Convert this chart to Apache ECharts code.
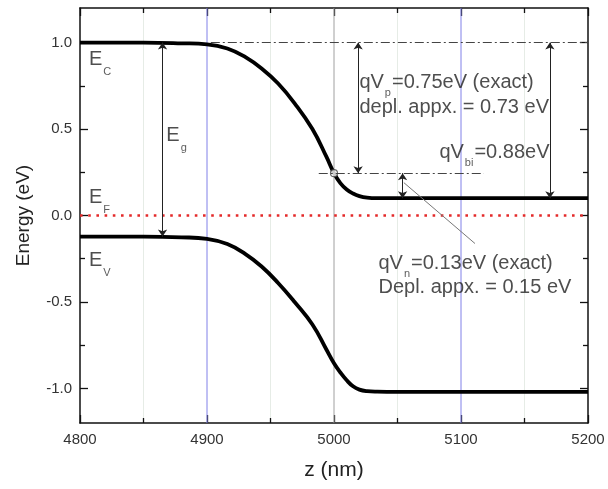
<!DOCTYPE html>
<html>
<head>
<meta charset="utf-8">
<script src="https://cdn.jsdelivr.net/npm/echarts@6.0.0/dist/echarts.min.js"></script>
<style>
  html, body { margin: 0; padding: 0; background: #fff; }
  #chart { width: 608px; height: 489px; }
</style>
</head>
<body>
<div id="chart"></div>
<script>
// position z (nm) and band edges (eV)
const zNm  = [4800, 4850, 4880, 4900, 4916, 4930, 4943, 4956, 4969, 4983, 4994, 5000, 5005, 5010, 5015, 5020, 5026, 5034, 5050, 5100, 5150, 5200];
const ecEV = [1.0, 1.0, 0.996, 0.99, 0.966, 0.917, 0.85, 0.763, 0.649, 0.50, 0.34, 0.245, 0.187, 0.15, 0.127, 0.112, 0.103, 0.1, 0.1, 0.1, 0.1, 0.1];
const evEV = [-0.122, -0.122, -0.126, -0.135, -0.165, -0.222, -0.295, -0.39, -0.5, -0.63, -0.775, -0.855, -0.908, -0.953, -0.988, -1.007, -1.016, -1.019, -1.02, -1.02, -1.02, -1.02];

// axis ticks
const yMajor = [-1.0, -0.5, 0.0, 0.5, 1.0];
const yMinor = [-0.75, -0.25, 0.25, 0.75];
const blueLines = [4900, 5100];
const grayLines = [5000];

// annotation geometry (data units)
const fermi = 0.0;
const eTop = 1.0;           // Ec on p side
const eMid = 0.245;         // Ec at the junction
const eRight = 0.1;         // Ec on n side
const eBottom = -0.122;     // Ev on p side
const zEg = 4865, zVp = 5019, zVbi = 5170, zVn = 5054;
const junction = [[5000, 0.245]];

const notes = [
  { z: 4807, e: 0.9, text: '{m|E}{s|C}' },
  { z: 4868, e: 0.46, text: '{m|E}{s|g}' },
  { z: 4807, e: 0.105, text: '{m|E}{s|F}' },
  { z: 4807, e: -0.26, text: '{m|E}{s|V}' },
  { z: 5020, e: 0.77, text: 'qV{s|p}=0.75eV (exact)' },
  { z: 5020, e: 0.626, text: 'depl. appx. = 0.73 eV' },
  { z: 5083, e: 0.365, text: 'qV{s|bi}=0.88eV' },
  { z: 5035, e: -0.278, text: 'qV{s|n}=0.13eV (exact)' },
  { z: 5035, e: -0.417, text: 'Depl. appx. = 0.15 eV' }
];

const FONT = '"Liberation Sans", Arial, sans-serif';
const chart = echarts.init(document.getElementById('chart'));

const range = { min: -1.2, max: 1.2 };
const frame = { show: true, onZero: false, lineStyle: { color: '#111', width: 1.5 } };
const tickStyle = { color: '#111', width: 1.3 };

const arrowLine = (z, e1, e2) => [{ coord: [z, e1] }, { coord: [z, e2] }];
// full-height vertical guide, drawn as an ordinary line series
const guide = (z, color) => ({
  type: 'line', z: 1, silent: true, showSymbol: false, symbol: 'none',
  data: [[z, range.min], [z, range.max]],
  lineStyle: { color: color, width: 1 },
  emphasis: { disabled: true }
});

const option = {
  backgroundColor: '#fff',
  animation: false,
  grid: { left: 80, right: 20, top: 8, bottom: 66, outerBoundsMode: 'none' },
  xAxis: [
    {
      type: 'value', min: 4800, max: 5200, interval: 100, position: 'bottom',
      name: 'z (nm)', nameLocation: 'middle', nameGap: 37,
      nameTextStyle: { fontFamily: FONT, fontSize: 21, color: '#222' },
      axisLine: frame,
      axisTick: { inside: true, length: 8, lineStyle: tickStyle },
      minorTick: { show: true, splitNumber: 2, length: 5, lineStyle: tickStyle },
      axisLabel: { fontFamily: FONT, fontSize: 15, color: '#333', margin: 9, formatter: v => String(v) },
      splitLine: { show: false },
      minorSplitLine: { show: true, lineStyle: { color: '#e6ece6', width: 1 } }
    },
    {
      type: 'value', min: 4800, max: 5200, interval: 100, position: 'top',
      axisLine: frame,
      axisTick: { inside: true, length: 8, lineStyle: tickStyle },
      minorTick: { show: true, splitNumber: 2, length: 5, lineStyle: tickStyle },
      axisLabel: { show: false },
      splitLine: { show: false }
    }
  ],
  yAxis: [
    {
      type: 'value', ...range, position: 'left',
      name: 'Energy (eV)', nameLocation: 'middle', nameGap: 47,
      nameTextStyle: { fontFamily: FONT, fontSize: 19, color: '#222' },
      axisLine: frame,
      axisTick: { inside: true, length: 8, customValues: yMajor, lineStyle: tickStyle },
      axisLabel: {
        fontFamily: FONT, fontSize: 15, color: '#333', margin: 8, customValues: yMajor,
        formatter: v => v.toFixed(1)
      },
      splitLine: { show: false }
    },
    {
      type: 'value', ...range, position: 'left',
      axisLine: { show: false, onZero: false },
      axisTick: { inside: true, length: 5, customValues: yMinor, lineStyle: tickStyle },
      axisLabel: { show: false },
      splitLine: { show: false }
    },
    {
      type: 'value', ...range, position: 'right',
      axisLine: frame,
      axisTick: { inside: true, length: 8, customValues: yMajor, lineStyle: tickStyle },
      axisLabel: { show: false },
      splitLine: { show: false }
    },
    {
      type: 'value', ...range, position: 'right',
      axisLine: { show: false, onZero: false },
      axisTick: { inside: true, length: 5, customValues: yMinor, lineStyle: tickStyle },
      axisLabel: { show: false },
      splitLine: { show: false }
    }
  ],
  series: [
    ...blueLines.map(z => guide(z, '#8080e8')),
    ...grayLines.map(z => guide(z, '#a0a0a0')),
    {
      // Fermi level
      type: 'line', data: [], z: 1, silent: true,
      markLine: {
        silent: true, symbol: 'none', label: { show: false }, animation: false,
        emphasis: { disabled: true },
        lineStyle: { color: '#e42a2a', width: 2.6, type: [2.6, 5.6] },
        data: [{ yAxis: fermi }]
      }
    },
    {
      name: 'Ec', type: 'line', z: 3, showSymbol: false, smooth: 0.45,
      data: zNm.map((z, i) => [z, ecEV[i]]),
      lineStyle: { color: '#000', width: 3.8 }
    },
    {
      name: 'Ev', type: 'line', z: 3, showSymbol: false, smooth: 0.45,
      data: zNm.map((z, i) => [z, evEV[i]]),
      lineStyle: { color: '#000', width: 3.8 }
    },
    {
      // arrows, dash-dot reference levels and the leader line
      type: 'line', data: [], z: 2, silent: true,
      markLine: {
        silent: true, animation: false, label: { show: false },
        emphasis: { disabled: true },
        symbol: ['arrow', 'arrow'], symbolSize: 7,
        lineStyle: { color: '#222', width: 1, type: 'solid' },
        data: [
          arrowLine(zEg, eTop, eBottom),
          arrowLine(zVp, eTop, eMid),
          arrowLine(zVbi, eTop, eRight),
          arrowLine(zVn, eMid, eRight),
          [
            { coord: [4903, eTop], symbol: 'none', lineStyle: { color: '#444', type: [9, 3, 2, 3], width: 1 } },
            { coord: [5200, eTop], symbol: 'none' }
          ],
          [
            { coord: [4988, eMid], symbol: 'none', lineStyle: { color: '#444', type: [9, 3, 2, 3], width: 1 } },
            { coord: [5118, eMid], symbol: 'none' }
          ],
          [
            { coord: [5055, 0.19], symbol: 'none', lineStyle: { color: '#777', type: 'solid', width: 1 } },
            { coord: [5111, -0.162], symbol: 'none' }
          ]
        ]
      }
    },
    {
      type: 'scatter', z: 4, silent: true, data: junction,
      symbol: 'circle', symbolSize: 7,
      itemStyle: { color: '#fff', borderColor: '#444', borderWidth: 1.2 }
    },
    {
      type: 'scatter', z: 5, silent: true, symbolSize: 0,
      data: notes.map(n => ({ value: [n.z, n.e], label: { formatter: n.text } })),
      label: {
        show: true, position: [0, 0], align: 'left', verticalAlign: 'middle',
        fontFamily: FONT, fontSize: 20, color: '#222',
        rich: {
          m: { fontFamily: FONT, fontSize: 20, color: '#222', lineHeight: 24 },
          s: { fontFamily: FONT, fontSize: 11, color: '#333', verticalAlign: 'bottom', lineHeight: 10, padding: [0, 1, -6, 1] }
        }
      }
    }
  ]
};

chart.setOption(option);
</script>
</body>
</html>
